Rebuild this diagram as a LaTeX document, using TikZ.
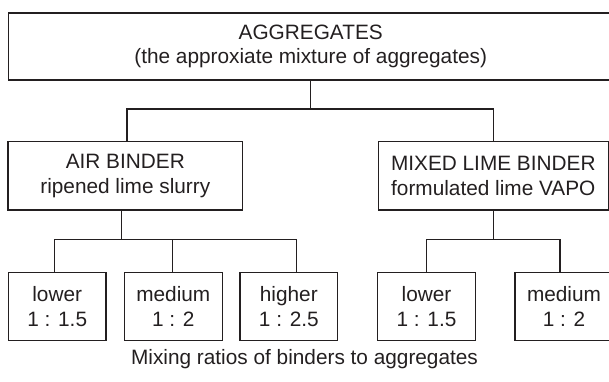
\documentclass[tikz,border=0pt]{standalone}
\usepackage{fontspec}
\setmainfont{Liberation Sans}
\definecolor{ink}{HTML}{231F20}
\begin{document}
\begin{tikzpicture}[x=1pt,y=-1pt,
  box/.style={draw=ink,line width=1.2pt,rectangle,inner sep=0pt,align=center,text=ink,
    font=\fontsize{20.8}{24.5}\selectfont},
  conn/.style={draw=ink,line width=1.2pt}]
\useasboundingbox (0,0) rectangle (609,381);
\clip (0,0) rectangle (609,381);
% top box
\node[box,minimum width=605pt,minimum height=67pt] (top) at (310.7,46.5)
  {AGGREGATES\\(the approxiate mixture of aggregates)};
% binder boxes
\node[box,minimum width=234.7pt,minimum height=68.3pt] (air) at (125.3,175.8)
  {AIR BINDER\\ripened lime slurry};
\node[box,minimum width=230pt,minimum height=68.3pt] (mix) at (493.3,175.8)
  {MIXED LIME BINDER\\formulated lime VAPO};
% ratio boxes
\node[box,minimum width=97.7pt,minimum height=68.4pt] (a1) at (57.2,306.5) {lower\\1 : 1.5};
\node[box,minimum width=98pt,minimum height=68.4pt] (a2) at (173.3,306.5) {medium\\1 : 2};
\node[box,minimum width=97.5pt,minimum height=68.4pt] (a3) at (288.8,306.5) {higher\\1 : 2.5};
\node[box,minimum width=98pt,minimum height=68.4pt] (m1) at (426.5,306.5) {lower\\1 : 1.5};
\node[box,minimum width=98pt,minimum height=68.4pt] (m2) at (564,306.5) {medium\\1 : 2};
% caption
\node[text=ink,inner sep=0pt,font=\fontsize{20.8}{24.5}\selectfont] (cap) at (304.5,359.5)
  {Mixing ratios of binders to aggregates};
% connectors
\coordinate (j0) at (310.7,109);
\coordinate (j1) at (121.7,239.5);
\coordinate (j2) at (493.3,239.5);
\draw[conn] (top.south -| j0) -- (j0);
\draw[conn] (air.north -| 127,0) |- (j0) -| (mix.north -| j2);
\draw[conn] (air.south -| j1) -- (j1);
\draw[conn] (a1.north -| 54.3,0) |- (j1) -| (a3.north -| 296.7,0);
\draw[conn] (a2.north -| 172.7,0) -- (172.7,239.5);
\draw[conn] (mix.south -| j2) -- (j2);
\draw[conn] (m1.north -| 426.7,0) |- (j2) -| (m2.north -| 560,0);
\end{tikzpicture}
\end{document}
